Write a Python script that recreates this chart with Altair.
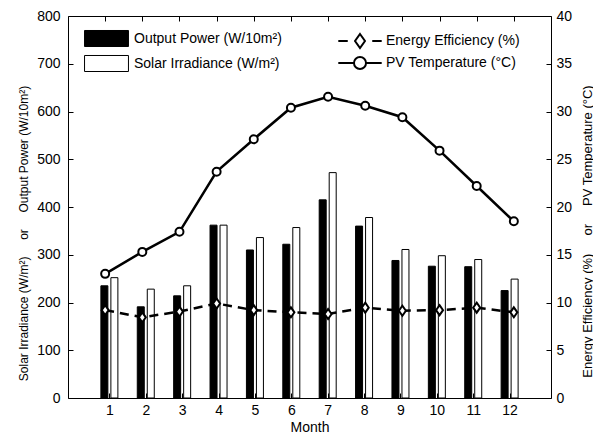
import altair as alt
import pandas as pd

months = list(range(1, 13))
output_power = [235, 191, 214, 362, 310, 322, 415, 360, 288, 276, 275, 225]
solar_irradiance = [252, 228, 235, 362, 336, 357, 472, 378, 311, 298, 290, 249]
energy_eff = [9.2, 8.45, 9.05, 9.9, 9.2, 8.97, 8.8, 9.46, 9.14, 9.2, 9.46, 8.97]
pv_temp = [13.0, 15.3, 17.4, 23.7, 27.1, 30.4, 31.55, 30.6, 29.4, 25.9, 22.2, 18.5]

P_LAB = "Output Power (W/10m²)"
S_LAB = "Solar Irradiance (W/m²)"
E_LAB = "Energy Efficiency (%)"
T_LAB = "PV Temperature (°C)"
NB = "\u00a0"
LEFT_TITLE = f"Solar Irradiance (W/m²){NB*5}or{NB*5}Output Power (W/10m²)"
RIGHT_TITLE = f"Energy Efficiency (%){NB*5}or{NB*5}PV Temperature (°C)"

FONT = "Liberation Sans"
FS = 14

bars_df = pd.DataFrame({
    "month": months * 2,
    "value": output_power + solar_irradiance,
    "series": [P_LAB] * 12 + [S_LAB] * 12,
})
eff_df = pd.DataFrame({"month": months, "v": energy_eff, "series": E_LAB})
temp_df = pd.DataFrame({"month": months, "v": pv_temp, "series": T_LAB})
legend_df = pd.DataFrame({"month": [-1, -1], "v": [-1, -1], "series": [E_LAB, T_LAB]})

x_scale = alt.Scale(domain=[0, 13], nice=False, zero=False)

common_axis = dict(labelFont=FONT, titleFont=FONT, labelFontSize=FS,
                   labelColor="black", titleColor="black", tickColor="black",
                   titleFontWeight="normal", tickWidth=1, grid=False, domain=False)

x_bottom = alt.X(
    "month:Q", scale=x_scale,
    axis=alt.Axis(values=months, offset=-5, tickSize=5, labelPadding=5, titleFontSize=14,
                  title="Month", titlePadding=3, labelFlush=False, **common_axis),
)
x_top = alt.X(
    "month:Q", scale=x_scale,
    axis=alt.Axis(orient="top", values=months, offset=-5, tickSize=5,
                  labels=False, title=None, **common_axis),
)

y_left = alt.Y(
    "value:Q", scale=alt.Scale(domain=[0, 800], nice=False),
    axis=alt.Axis(values=list(range(0, 801, 100)), offset=-5, tickSize=5, titleFontSize=12,
                  labelPadding=8, title=LEFT_TITLE, titleAngle=270, titleBaseline="middle",
                  titleAlign="center", titleX=-50, titleY=217, **common_axis),
)
y_right = alt.Y(
    "v:Q", scale=alt.Scale(domain=[0, 40], nice=False),
    axis=alt.Axis(orient="right", values=list(range(0, 41, 5)), offset=-5, tickSize=5,
                  labelPadding=5, title=RIGHT_TITLE, titleAngle=270, titleFontSize=13,
                  titleBaseline="middle", titleAlign="center", titleX=41, titleY=215,
                  **common_axis),
)

RECT = "M-2.44,-0.89H2.44V0.89H-2.44Z"
fill_enc = alt.Fill(
    "series:N",
    scale=alt.Scale(domain=[P_LAB, S_LAB], range=["black", "white"]),
    legend=alt.Legend(title=None, orient="none", legendX=29, legendY=13, symbolType=RECT,
                      symbolSize=324, symbolStrokeColor="black", symbolStrokeWidth=1,
                      labelOffset=18, rowPadding=4, labelFontSize=FS, labelFont=FONT,
                      padding=0, labelColor="black"),
)

bar_p = alt.Chart(bars_df).transform_filter(alt.datum.series == P_LAB).mark_bar(
    size=7, xOffset=-5, stroke="black", strokeWidth=1
).encode(x=x_bottom, y=y_left, fill=fill_enc)
bar_s = alt.Chart(bars_df).transform_filter(alt.datum.series == S_LAB).mark_bar(
    size=7, xOffset=5, stroke="black", strokeWidth=1
).encode(x=x_bottom, y=y_left, fill=fill_enc)

bars = alt.layer(bar_p, bar_s)

DIAMOND = "M0,-1L0.7,0L0,1L-0.7,0Z"
LEG_DASH = "M-3.1,0H-1.75M1.75,0H3.1M0,-1L0.71,0L0,1L-0.71,0Z"
LEG_CIRC = ("M-3.1,0H-0.86M0.86,0H3.1M0.86,0A0.86,0.86 0 1,1 -0.86,0"
            "A0.86,0.86 0 1,1 0.86,0Z")

eff_line = alt.Chart(eff_df).mark_line(
    color="black", strokeWidth=2.5, strokeDash=[9, 6]
).encode(x=x_top, y=y_right)
temp_line = alt.Chart(temp_df).mark_line(
    color="black", strokeWidth=2.5
).encode(x=x_top, y=y_right)
eff_pts = alt.Chart(eff_df).mark_point(
    shape=DIAMOND, size=100, filled=True, fill="white", stroke="black", strokeWidth=2, opacity=1
).encode(x=x_top, y=y_right)
temp_pts = alt.Chart(temp_df).mark_point(
    shape="circle", size=64, filled=True, fill="white", stroke="black", strokeWidth=2, opacity=1
).encode(x=x_top, y=y_right)
leg_pts = alt.Chart(legend_df).transform_filter("datum.month > 0").mark_point(
    filled=False, color="black", strokeWidth=2, opacity=1
).encode(
    x=x_top, y=y_right,
    shape=alt.Shape(
        "series:N",
        scale=alt.Scale(domain=[E_LAB, T_LAB], range=[LEG_DASH, LEG_CIRC]),
        legend=alt.Legend(title=None, orient="none", legendX=284, legendY=17,
                          symbolSize=196, symbolStrokeColor="black",
                          symbolStrokeWidth=2, symbolOpacity=1, labelOffset=18, rowPadding=0,
                          labelFontSize=FS, labelFont=FONT, padding=0, labelColor="black"),
    ),
)

lines = alt.layer(eff_line, temp_line, eff_pts, temp_pts, leg_pts)

chart = alt.layer(bars, lines).resolve_scale(
    y="independent", x="independent", fill="independent", shape="independent"
).properties(
    width=483, height=382,
    background="white",
    autosize=alt.AutoSizeParams(type="none"),
    padding={"left": 60, "top": 8, "right": 42, "bottom": 37},
).configure_view(
    stroke="black", strokeWidth=1
)

chart.save("out.html", embed_options={"renderer": "svg", "actions": False})
